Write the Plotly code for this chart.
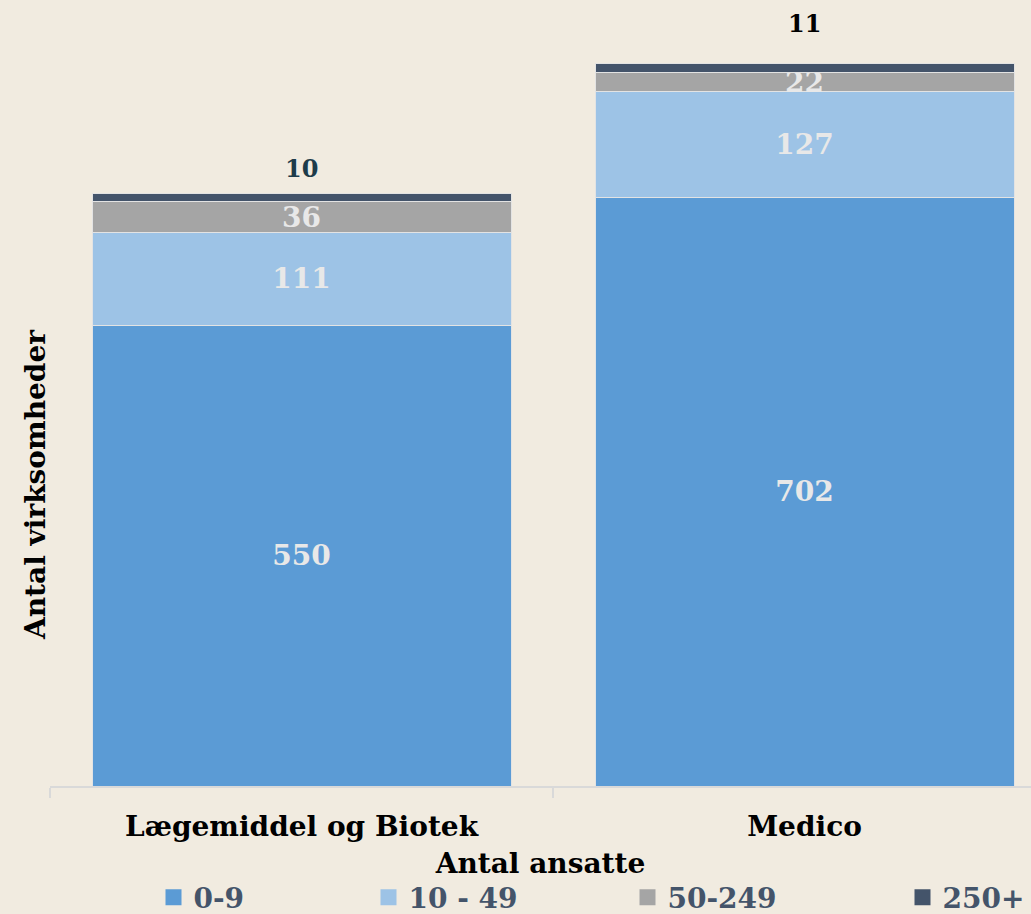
import plotly.graph_objects as go

# Antal virksomheder fordelt på størrelse (antal ansatte)
categories = ["Lægemiddel og Biotek", "Medico"]
size_groups = ["0-9", "10 - 49", "50-249", "250+"]
v_0_9 = [550, 702]
v_10_49 = [111, 127]
v_50_249 = [36, 22]
v_250 = [10, 11]

series = [v_0_9, v_10_49, v_50_249, v_250]
colors = ["#5B9BD5", "#9DC3E6", "#A5A5A5", "#44546A"]

SERIF = "DejaVu Serif, Georgia, serif"
BG = "#F1EBE0"
W, H = 1031, 914
ML, MR, MT, MB = 50, 0, 0, 128
PLOT_W = W - ML - MR
PLOT_H = H - MT - MB

fig = go.Figure()
for name, vals, col in zip(size_groups, series, colors):
    show_text = name != "250+"
    fig.add_trace(go.Bar(
        x=categories,
        y=vals,
        name=name,
        showlegend=False,
        marker=dict(color=col, line=dict(color="#E3E3E3", width=1)),
        width=0.833,
        text=[str(v) for v in vals] if show_text else None,
        texttemplate="%{text}" if show_text else None,
        textposition="inside" if show_text else "none",
        insidetextanchor="middle",
        textangle=0,
        textfont=dict(family=SERIF, size=28, color="#E8E8E8", weight="bold"),
        constraintext="none",
        hoverinfo="skip",
    ))

# legend entries: one legend per size group so each can sit at its own spot
legend_centers_px = [173.5, 388.5, 647.5, 922.5]
legend_layouts = {}
for i, (name, col, cx) in enumerate(zip(size_groups, colors, legend_centers_px)):
    key = "legend" if i == 0 else f"legend{i + 1}"
    fig.add_trace(go.Scatter(
        x=[None], y=[None], mode="markers", name=name,
        marker=dict(symbol="square", size=17, color=col),
        legend=key, showlegend=True, hoverinfo="skip",
    ))
    legend_layouts[key] = dict(
        orientation="h",
        x=(cx - 20 - ML) / PLOT_W, xanchor="left",
        y=(PLOT_H - (897.5 - MT)) / PLOT_H, yanchor="middle",
        font=dict(family=SERIF, size=28, color="#44546A", weight="bold"),
        bgcolor="rgba(0,0,0,0)",
        borderwidth=0,
    )

# labels for the 250+ segment, placed above each bar
totals = [a + b + c + d for a, b, c, d in zip(v_0_9, v_10_49, v_50_249, v_250)]
label_colors = ["#1D3C4A", "#000000"]
label_shift = [25, 40]
for cat, tot, val, col, sh in zip(categories, totals, v_250, label_colors, label_shift):
    fig.add_annotation(
        x=cat, y=tot, text=str(val), showarrow=False,
        yanchor="middle", yshift=sh,
        font=dict(family=SERIF, size=24, color=col, weight="bold"),
    )

# y-axis title
fig.add_annotation(
    xref="paper", yref="paper",
    x=(35 - ML) / PLOT_W, y=(PLOT_H - (485 - MT)) / PLOT_H,
    text="Antal virksomheder", textangle=-90, showarrow=False,
    xanchor="center", yanchor="middle",
    font=dict(family=SERIF, size=28, color="#000000", weight="bold"),
)

fig.update_layout(
    barmode="stack",
    width=W,
    height=H,
    margin=dict(l=ML, r=MR, t=MT, b=MB, autoexpand=False),
    paper_bgcolor=BG,
    plot_bgcolor=BG,
    showlegend=True,
    bargap=0.167,
    **legend_layouts,
)

fig.update_xaxes(
    range=[-0.5, 1.4503],
    showline=True, linecolor="#D9D9D9", linewidth=2,
    ticks="outside", tickson="boundaries", ticklen=10,
    tickcolor="#D9D9D9", tickwidth=2,
    ticklabelstandoff=14,
    tickfont=dict(family=SERIF, size=28, color="#000000", weight="bold"),
    showgrid=False,
    automargin=False,
    title=dict(
        text="Antal ansatte",
        font=dict(family=SERIF, size=28, color="#000000", weight="bold"),
        standoff=12,
    ),
)

fig.update_yaxes(
    range=[0, 938],
    showticklabels=False,
    showgrid=False,
    zeroline=False,
    showline=False,
    automargin=False,
)

fig.write_html("out.html")
